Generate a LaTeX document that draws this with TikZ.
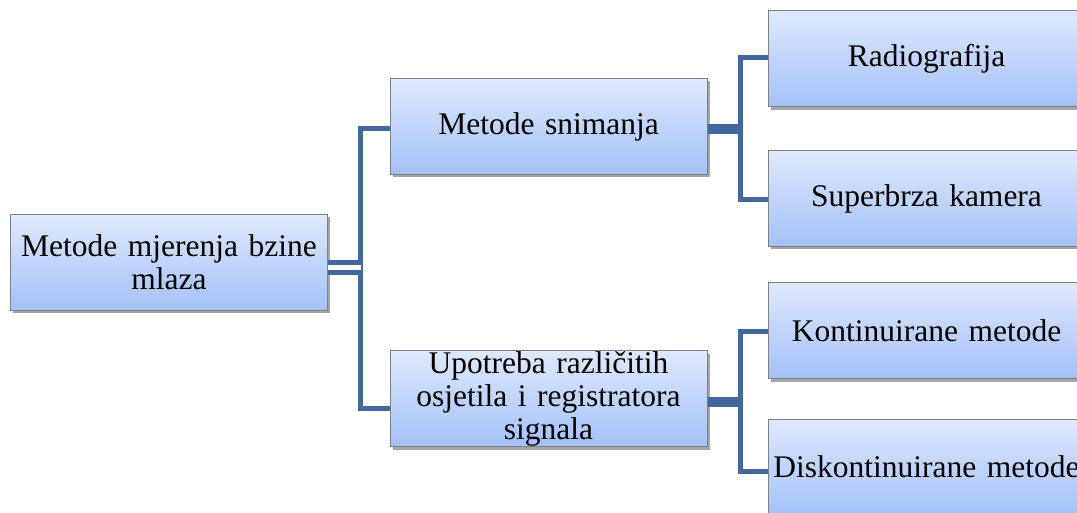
\documentclass[tikz,border=0pt]{standalone}
\usepackage{fontspec}
\setmainfont{Liberation Serif}
\usetikzlibrary{shadows}
\definecolor{conn}{HTML}{42689D}
\definecolor{boxtop}{HTML}{DFE9FC}
\definecolor{boxbot}{HTML}{A3C1F8}
\definecolor{boxline}{HTML}{7C7E88}
\begin{document}
\begin{tikzpicture}[x=1pt,y=-1pt,
  box/.style={draw=boxline, line width=1pt, top color=boxtop, bottom color=boxbot,
    minimum width=317pt, minimum height=96pt, inner sep=0pt, text width=310pt,
    align=center, font=\fontsize{31.5}{33}\selectfont,
    drop shadow={shadow xshift=2.5pt, shadow yshift=-3pt, opacity=0.35, fill=black}},
  thinconn/.style={draw=conn, line width=5pt},
  thickconn/.style={draw=conn, line width=10pt},
  dblconn/.style={draw=conn, line width=4.5pt, double=white, double distance=5.5pt}]
\useasboundingbox (0,0) rectangle (1077,513);
\node[box] (root) at (169,262.5) {Metode mjerenja bzine\\mlaza};
\node[box] (snim) at (548.5,126.5) {Metode snimanja};
\node[box] (upot) at (548.5,398.5) {Upotreba različitih\\osjetila i registratora\\signala};
\node[box] (radio) at (926.5,59) {Radiografija};
\node[box] (super) at (926.5,198.5) {Superbrza kamera};
\node[box] (kont) at (926.5,330.5) {Kontinuirane metode};
\node[box] (disk) at (926.5,467) {Diskontinuirane metode};
% left tree
\coordinate (t0) at (360.5,267.5);
\coordinate (sL) at ([yshift=-2.5pt]snim.west);
\coordinate (uL) at ([yshift=-9.5pt]upot.west);
\draw[thinconn] (sL) -| (t0) |- (uL);
\draw[dblconn] (root.east |- t0) -- (t0);
% upper right tree
\coordinate (t1) at (740,129);
\coordinate (rL) at ([yshift=1pt]radio.west);
\coordinate (kL) at ([yshift=-1.5pt]super.west);
\draw[thinconn] (rL) -| (t1) |- (kL);
\draw[thickconn] (snim.east |- t1) -- (t1);
% lower right tree
\coordinate (t2) at (740,401.5);
\coordinate (cL) at ([yshift=-0.5pt]kont.west);
\coordinate (dL) at ([yshift=-4pt]disk.west);
\draw[thinconn] (cL) -| (t2) |- (dL);
\draw[thickconn] (upot.east |- t2) -- (t2);
\end{tikzpicture}
\end{document}
